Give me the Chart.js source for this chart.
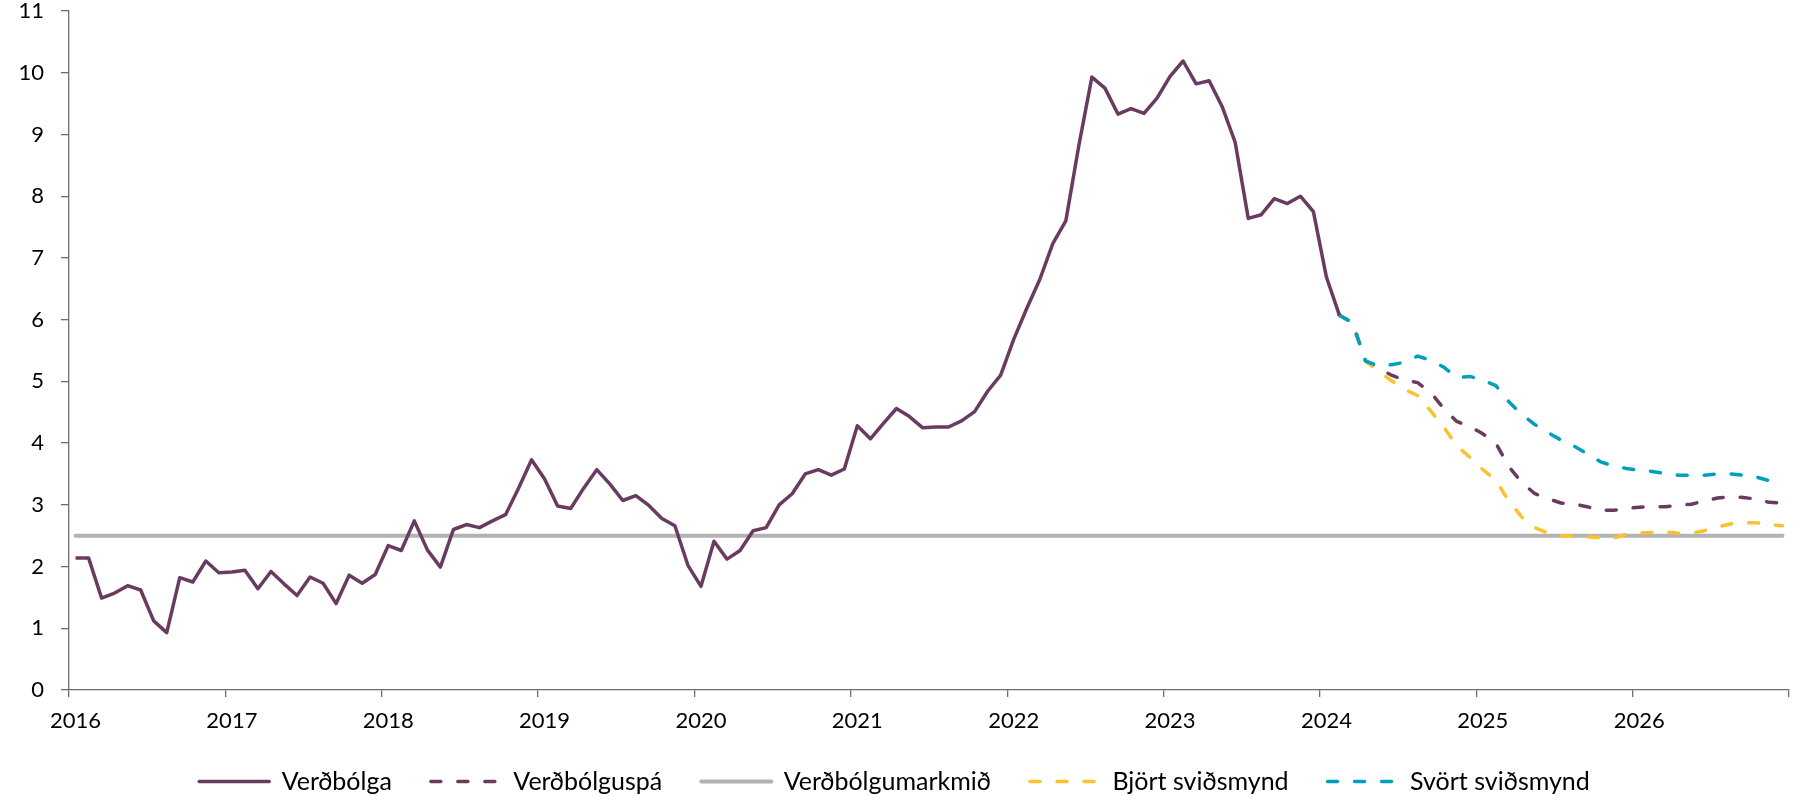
<!DOCTYPE html>
<html lang="is">
<head>
<meta charset="utf-8">
<title>Verðbólga og verðbólguspá</title>
<script src="https://cdn.jsdelivr.net/npm/chart.js@4.4.1/dist/chart.umd.min.js"></script>
<style>
  html, body { margin: 0; padding: 0; background: #fff; }
  #wrap { width: 1796px; height: 796px; }
</style>
</head>
<body>
<div id="wrap"><canvas id="chart"></canvas></div>
<script>
// Ár á x-ás (mánaðarleg gögn, jan 2016 - des 2026)
const years = [2016, 2017, 2018, 2019, 2020, 2021, 2022, 2023, 2024, 2025, 2026];
const yTicks = [0, 1, 2, 3, 4, 5, 6, 7, 8, 9, 10, 11];

// Verðbólga, jan 2016 - feb 2024
const verdbolga = [
  2.14, 2.14, 1.49, 1.57, 1.69, 1.62, 1.12, 0.93, 1.82, 1.75, 2.09, 1.90,
  1.91, 1.94, 1.64, 1.92, 1.72, 1.53, 1.83, 1.73, 1.40, 1.86, 1.73, 1.87,
  2.34, 2.26, 2.74, 2.27, 1.99, 2.60, 2.68, 2.63, 2.74, 2.84, 3.27, 3.73,
  3.42, 2.98, 2.94, 3.27, 3.57, 3.34, 3.07, 3.15, 2.99, 2.78, 2.66, 2.02,
  1.68, 2.41, 2.12, 2.26, 2.58, 2.63, 3.00, 3.18, 3.50, 3.57, 3.48, 3.58,
  4.28, 4.07, 4.32, 4.56, 4.43, 4.25, 4.26, 4.26, 4.36, 4.51, 4.84, 5.10,
  5.68, 6.18, 6.65, 7.23, 7.60, 8.82, 9.93, 9.75, 9.33, 9.42, 9.34, 9.59,
  9.94, 10.19, 9.82, 9.87, 9.45, 8.87, 7.64, 7.70, 7.96, 7.88, 8.00, 7.75,
  6.69, 6.07
];

// Spár byrja í feb 2024 (mánuður nr. 97 frá jan 2016)
const forecastStart = 97;
const verdbolguspa = [
  6.07, 5.95, 5.33, 5.21, 5.10, 5.02, 4.98, 4.82, 4.56, 4.35, 4.27,
  4.15, 4.00, 3.62, 3.36, 3.18, 3.10, 3.03, 3.01, 2.97, 2.91, 2.91, 2.94,
  2.96, 2.97, 2.97, 2.99, 3.01, 3.06, 3.11, 3.13, 3.12, 3.09, 3.04, 3.03
];
const bjortSvidsmynd = [
  6.07, 5.95, 5.33, 5.16, 5.01, 4.87, 4.77, 4.52, 4.26, 3.96, 3.77,
  3.57, 3.40, 3.06, 2.80, 2.63, 2.54, 2.50, 2.50, 2.48, 2.47, 2.46, 2.52,
  2.54, 2.55, 2.56, 2.54, 2.54, 2.58, 2.64, 2.69, 2.71, 2.71, 2.68, 2.66
];
const svortSvidsmynd = [
  6.07, 5.95, 5.33, 5.25, 5.27, 5.31, 5.41, 5.34, 5.23, 5.06, 5.08,
  5.02, 4.93, 4.67, 4.46, 4.30, 4.17, 4.05, 3.95, 3.83, 3.70, 3.63, 3.59,
  3.56, 3.54, 3.51, 3.48, 3.48, 3.48, 3.50, 3.50, 3.48, 3.45, 3.39, 3.36
];
const verdbolgumarkmid = 2.5;

const purple = '#6a3b60';
const grey = '#b2b2b2';
const yellow = '#fdc130';
const teal = '#00a0bd';
const axisColor = '#6e6e6e';
const dash = [10, 17];

// mánuðir sem flokkar
const months = years.flatMap(y => Array.from({ length: 12 }, (_, m) => y + '-' + String(m + 1).padStart(2, '0')));

function padSeries(values, start) {
  return months.map((_, i) => (i >= start && i - start < values.length) ? values[i - start] : null);
}

const tickFont = { family: 'Lato', size: 22 };
const legendFont = { family: 'Lato', size: 25 };

const chart = document.querySelector('#chart').getContext('2d');

new Chart(chart, {
  type: 'line',
  data: {
    labels: months,
    datasets: [
      {
        label: 'Verðbólga',
        data: padSeries(verdbolga, 0),
        borderColor: purple,
        borderWidth: 3.5,
        order: 1
      },
      {
        label: 'Verðbólguspá',
        data: padSeries(verdbolguspa, forecastStart),
        borderColor: purple,
        borderWidth: 3.5,
        borderDash: dash,
        borderCapStyle: 'round',
        order: 4
      },
      {
        label: 'Verðbólgumarkmið',
        data: months.map(() => verdbolgumarkmid),
        borderColor: grey,
        borderWidth: 4,
        borderCapStyle: 'round',
        order: 5
      },
      {
        label: 'Björt sviðsmynd',
        data: padSeries(bjortSvidsmynd, forecastStart),
        borderColor: yellow,
        borderWidth: 3.5,
        borderDash: dash,
        borderCapStyle: 'round',
        order: 3
      },
      {
        label: 'Svört sviðsmynd',
        data: padSeries(svortSvidsmynd, forecastStart),
        borderColor: teal,
        borderWidth: 3.5,
        borderDash: dash,
        borderCapStyle: 'round',
        order: 2
      }
    ]
  },
  options: {
    responsive: true,
    maintainAspectRatio: false,
    animation: false,
    layout: { padding: { left: 0, right: 7, top: 11, bottom: -8 } },
    elements: {
      point: { radius: 0, hoverRadius: 0 },
      line: { tension: 0, fill: false, borderJoinStyle: 'round' }
    },
    plugins: {
      tooltip: { enabled: false },
      legend: {
        position: 'bottom',
        labels: {
          usePointStyle: true,
          pointStyleWidth: 70,
          boxHeight: 25,
          padding: 39,
          color: '#000',
          font: legendFont,
          // línur í skýringu með sama stíl og gagnaraðirnar
          generateLabels: c => c.data.datasets.map((ds, i) => ({
            text: ds.label,
            datasetIndex: i,
            hidden: false,
            fillStyle: ds.borderColor,
            strokeStyle: ds.borderColor,
            lineWidth: ds.borderWidth,
            lineDash: ds.borderDash || [],
            lineCap: 'round',
            pointStyle: 'line',
            fontColor: '#000'
          }))
        }
      }
    },
    scales: {
      x: {
        type: 'category',
        offset: true,
        afterFit: s => { s.height = 40; },
        grid: {
          offset: true,
          drawOnChartArea: false,
          drawTicks: true,
          tickLength: 7,
          lineWidth: 1.3,
          color: ctx => (ctx.type !== 'tick' || ctx.index % 12 === 0) ? axisColor : 'rgba(0,0,0,0)'
        },
        border: { display: true, color: axisColor, width: 1.3 },
        ticks: {
          autoSkip: false,
          maxRotation: 0,
          minRotation: 0,
          padding: 11,
          color: '#000',
          font: tickFont,
          callback: (value, index) => index % 12 === 0 ? String(years[index / 12]) : ''
        }
      },
      y: {
        min: 0,
        max: 11,
        afterBuildTicks: scale => { scale.ticks = yTicks.map(v => ({ value: v })); },
        afterFit: s => { s.width = 69; s.paddingTop = 0; s.paddingBottom = 0; },
        grid: {
          drawOnChartArea: false,
          drawTicks: true,
          tickLength: 8,
          lineWidth: 1.3,
          color: axisColor
        },
        border: { display: true, color: axisColor, width: 1.3 },
        ticks: {
          padding: 17,
          color: '#000',
          font: tickFont
        }
      }
    }
  }
});
</script>
</body>
</html>
